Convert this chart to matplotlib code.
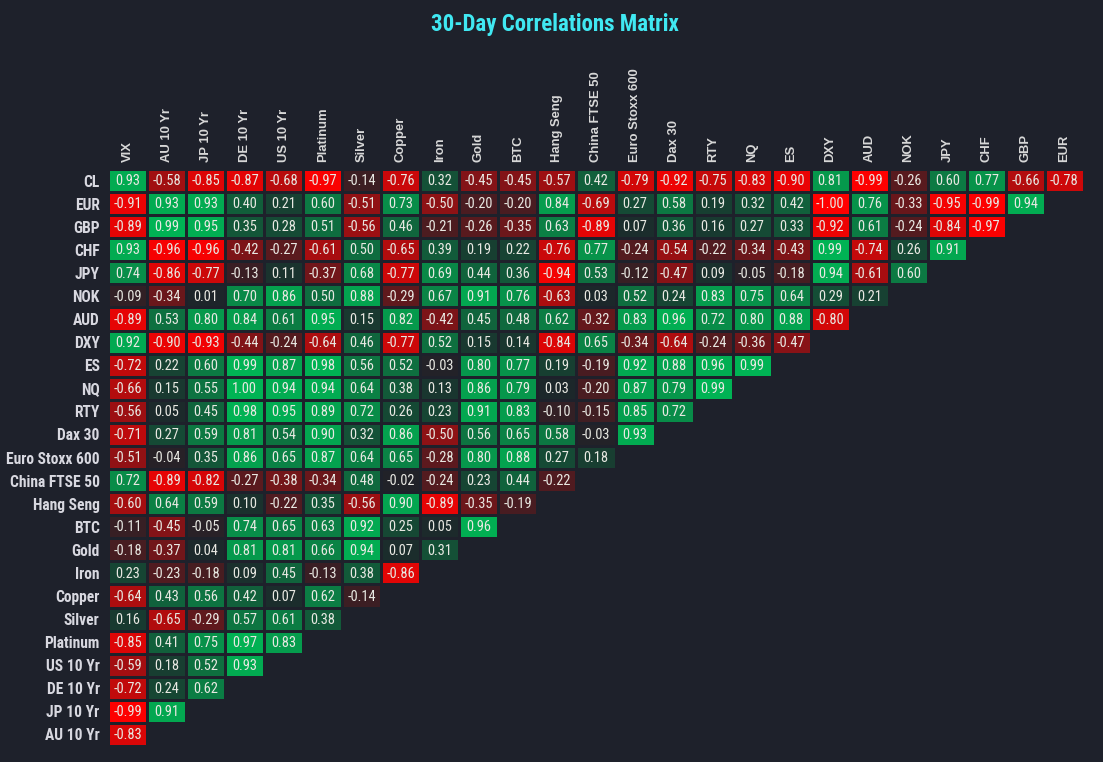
"""
30-day correlations matrix, lower-left triangle heatmap.
"""

import numpy as np
import matplotlib
matplotlib.use('Agg')
import matplotlib.pyplot as plt
from matplotlib import font_manager
from matplotlib.colors import LinearSegmentedColormap

rows = ['CL', 'EUR', 'GBP', 'CHF', 'JPY', 'NOK', 'AUD', 'DXY', 'ES', 'NQ',
        'RTY', 'Dax 30', 'Euro Stoxx 600', 'China FTSE 50', 'Hang Seng',
        'BTC', 'Gold', 'Iron', 'Copper', 'Silver', 'Platinum', 'US 10 Yr',
        'DE 10 Yr', 'JP 10 Yr', 'AU 10 Yr']

cols = ['VIX', 'AU 10 Yr', 'JP 10 Yr', 'DE 10 Yr', 'US 10 Yr', 'Platinum',
        'Silver', 'Copper', 'Iron', 'Gold', 'BTC', 'Hang Seng',
        'China FTSE 50', 'Euro Stoxx 600', 'Dax 30', 'RTY', 'NQ', 'ES',
        'DXY', 'AUD', 'NOK', 'JPY', 'CHF', 'GBP', 'EUR']

# one list per row, read left to right; row i has len(cols) - i values
corr = [
    [0.93, -0.58, -0.85, -0.87, -0.68, -0.97, -0.14, -0.76, 0.32, -0.45, -0.45, -0.57, 0.42,
     -0.79, -0.92, -0.75, -0.83, -0.90, 0.81, -0.99, -0.26, 0.60, 0.77, -0.66, -0.78],
    [-0.91, 0.93, 0.93, 0.40, 0.21, 0.60, -0.51, 0.73, -0.50, -0.20, -0.20, 0.84, -0.69,
     0.27, 0.58, 0.19, 0.32, 0.42, -1.00, 0.76, -0.33, -0.95, -0.99, 0.94],
    [-0.89, 0.99, 0.95, 0.35, 0.28, 0.51, -0.56, 0.46, -0.21, -0.26, -0.35, 0.63, -0.89,
     0.07, 0.36, 0.16, 0.27, 0.33, -0.92, 0.61, -0.24, -0.84, -0.97],
    [0.93, -0.96, -0.96, -0.42, -0.27, -0.61, 0.50, -0.65, 0.39, 0.19, 0.22, -0.76, 0.77,
     -0.24, -0.54, -0.22, -0.34, -0.43, 0.99, -0.74, 0.26, 0.91],
    [0.74, -0.86, -0.77, -0.13, 0.11, -0.37, 0.68, -0.77, 0.69, 0.44, 0.36, -0.94, 0.53,
     -0.12, -0.47, 0.09, -0.05, -0.18, 0.94, -0.61, 0.60],
    [-0.09, -0.34, 0.01, 0.70, 0.86, 0.50, 0.88, -0.29, 0.67, 0.91, 0.76, -0.63, 0.03,
     0.52, 0.24, 0.83, 0.75, 0.64, 0.29, 0.21],
    [-0.89, 0.53, 0.80, 0.84, 0.61, 0.95, 0.15, 0.82, -0.42, 0.45, 0.48, 0.62, -0.32,
     0.83, 0.96, 0.72, 0.80, 0.88, -0.80],
    [0.92, -0.90, -0.93, -0.44, -0.24, -0.64, 0.46, -0.77, 0.52, 0.15, 0.14, -0.84, 0.65,
     -0.34, -0.64, -0.24, -0.36, -0.47],
    [-0.72, 0.22, 0.60, 0.99, 0.87, 0.98, 0.56, 0.52, -0.03, 0.80, 0.77, 0.19, -0.19,
     0.92, 0.88, 0.96, 0.99],
    [-0.66, 0.15, 0.55, 1.00, 0.94, 0.94, 0.64, 0.38, 0.13, 0.86, 0.79, 0.03, -0.20,
     0.87, 0.79, 0.99],
    [-0.56, 0.05, 0.45, 0.98, 0.95, 0.89, 0.72, 0.26, 0.23, 0.91, 0.83, -0.10, -0.15,
     0.85, 0.72],
    [-0.71, 0.27, 0.59, 0.81, 0.54, 0.90, 0.32, 0.86, -0.50, 0.56, 0.65, 0.58, -0.03, 0.93],
    [-0.51, -0.04, 0.35, 0.86, 0.65, 0.87, 0.64, 0.65, -0.28, 0.80, 0.88, 0.27, 0.18],
    [0.72, -0.89, -0.82, -0.27, -0.38, -0.34, 0.48, -0.02, -0.24, 0.23, 0.44, -0.22],
    [-0.60, 0.64, 0.59, 0.10, -0.22, 0.35, -0.56, 0.90, -0.89, -0.35, -0.19],
    [-0.11, -0.45, -0.05, 0.74, 0.65, 0.63, 0.92, 0.25, 0.05, 0.96],
    [-0.18, -0.37, 0.04, 0.81, 0.81, 0.66, 0.94, 0.07, 0.31],
    [0.23, -0.23, -0.18, 0.09, 0.45, -0.13, 0.38, -0.86],
    [-0.64, 0.43, 0.56, 0.42, 0.07, 0.62, -0.14],
    [0.16, -0.65, -0.29, 0.57, 0.61, 0.38],
    [-0.85, 0.41, 0.75, 0.97, 0.83],
    [-0.59, 0.18, 0.52, 0.93],
    [-0.72, 0.24, 0.62],
    [-0.99, 0.91],
    [-0.83],
]

BG = '#1e212b'


def pick_font(*names):
    # first installed family from the list, else DejaVu Sans
    have = {f.name for f in font_manager.fontManager.ttflist}
    for n in names:
        if n in have:
            return n
    return 'DejaVu Sans'


NARROW = pick_font('Liberation Sans Narrow', 'Roboto Condensed', 'Roboto')
WIDE = pick_font('Liberation Sans', 'Arial')


def build_matrix():
    m = np.full((len(rows), len(cols)), np.nan)
    for i, vals in enumerate(corr):
        m[i, :len(vals)] = vals
    return np.ma.masked_invalid(m)


def main():
    data = build_matrix()
    cmap = LinearSegmentedColormap.from_list(
        'corr', [(0.0, '#ff0000'), (0.5, '#1d2329'), (1.0, '#00b454')])

    fig = plt.figure(figsize=(11.03, 7.62), dpi=100, facecolor=BG)
    ax = fig.add_axes([108 / 1103, 1 - 746 / 762, 976 / 1103, 577 / 762])
    ax.set_facecolor(BG)

    ax.pcolormesh(data, cmap=cmap, vmin=-1, vmax=1,
                  edgecolors=BG, linewidth=1.9)
    ax.set_xlim(0, len(cols))
    ax.set_ylim(len(rows), 0)

    for i, vals in enumerate(corr):
        for j, v in enumerate(vals):
            ax.text(j + 0.5, i + 0.53, f'{v:.2f}', ha='center', va='center',
                    color='#e8e8e2', fontsize=10.4, family=NARROW)

    ax.xaxis.tick_top()
    ax.set_xticks(np.arange(len(cols)) + 0.5)
    ax.set_xticklabels(cols, rotation=90, fontsize=9.4, fontweight='bold',
                       color='#d8d8d8', family=WIDE)
    ax.set_yticks(np.arange(len(rows)) + 0.5)
    ax.set_yticklabels(rows, fontsize=11.2, fontweight='bold',
                       color='#d8d8e0', family=NARROW)
    ax.tick_params(length=0)
    ax.tick_params(axis='x', pad=5)
    ax.tick_params(axis='y', pad=6)
    for s in ax.spines.values():
        s.set_visible(False)

    fig.text(0.503, 0.968, '30-Day Correlations Matrix', ha='center', va='center',
             color='#40e8f2', fontsize=16.5, fontweight='bold', family=NARROW)

    fig.savefig('out.png', dpi=100, facecolor=BG)


if __name__ == '__main__':
    main()
